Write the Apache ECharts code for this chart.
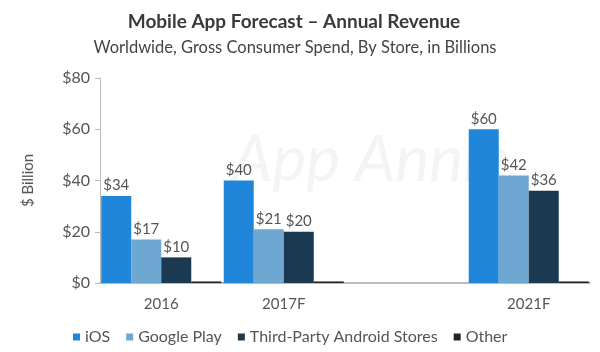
<!DOCTYPE html>
<html>
<head>
<meta charset="utf-8">
<script src="https://cdn.jsdelivr.net/npm/echarts@6/dist/echarts.min.js"></script>
<style>
  html, body { margin: 0; padding: 0; background: #fff; }
  #chart { width: 600px; height: 352px; }
</style>
</head>
<body>
<div id="chart"></div>
<script>
// data
const categories = ['2016', '2017F', '', '2021F']
const iosValues = [34, 40, null, 60]
const googlePlayValues = [17, 21, null, 42]
const thirdPartyValues = [10, 20, null, 36]
const otherValues = [0.6, 0.6, null, 0.6]
const yTicks = [0, 20, 40, 60, 80]

const font = 'Lato, "Open Sans", sans-serif'
const chart = echarts.init(document.getElementById('chart'))

function barLabel() {
  return {
    show: true,
    position: 'top',
    distance: 3,
    color: '#555',
    fontSize: 15,
    fontFamily: font,
    formatter: function(p) {
      return p.value == null ? '' : '$' + p.value
    }
  }
}

const option = {
  backgroundColor: '#fff',
  title: [{
    text: 'Mobile App Forecast – Annual Revenue',
    left: 289,
    textAlign: 'center',
    top: 7,
    textStyle: { color: '#3a3a3a', fontSize: 19, fontWeight: 'bold', fontFamily: font }
  }, {
    text: 'Worldwide, Gross Consumer Spend, By Store, in Billions',
    left: 290,
    textAlign: 'center',
    top: 34,
    textStyle: { color: '#444', fontSize: 16.5, fontWeight: 'normal', fontFamily: font }
  }],
  graphic: [{
    type: 'text',
    left: 232,
    top: 128,
    z: 0,
    style: {
      text: 'App Annie',
      fill: '#f4f4f4',
      font: 'italic 64px ' + font
    }
  }],
  legend: {
    bottom: 2,
    left: 68,
    icon: 'rect',
    itemWidth: 7,
    itemHeight: 7,
    itemGap: 16,
    textStyle: { color: '#555', fontSize: 16, fontFamily: font },
    data: ['iOS', 'Google Play', 'Third-Party Android Stores', 'Other']
  },
  grid: {
    left: 100,
    right: 10,
    top: 78,
    bottom: 69
  },
  xAxis: {
    type: 'category',
    data: categories,
    axisLine: { lineStyle: { color: '#bbb', width: 2 } },
    axisTick: { show: false },
    axisLabel: { color: '#555', fontSize: 15, fontFamily: font, margin: 14 }
  },
  yAxis: {
    type: 'value',
    min: yTicks[0],
    max: yTicks[yTicks.length - 1],
    interval: 20,
    name: '$ Billion',
    nameLocation: 'middle',
    nameGap: 64,
    nameRotate: 90,
    nameTextStyle: { color: '#555', fontSize: 15, fontFamily: font },
    axisLine: { show: true, lineStyle: { color: '#bbb' } },
    axisTick: { show: true, length: 5, lineStyle: { color: '#bbb' } },
    splitLine: { show: false },
    axisLabel: {
      color: '#555',
      fontSize: 16,
      fontFamily: font,
      margin: 10,
      formatter: function(v) { return '$' + v }
    }
  },
  series: [{
    name: 'iOS',
    type: 'bar',
    barGap: '0%',
    barCategoryGap: '2%',
    itemStyle: { color: '#1f86da' },
    label: barLabel(),
    data: iosValues
  }, {
    name: 'Google Play',
    type: 'bar',
    itemStyle: { color: '#6ea7d1' },
    label: barLabel(),
    data: googlePlayValues
  }, {
    name: 'Third-Party Android Stores',
    type: 'bar',
    itemStyle: { color: '#1b3a52' },
    label: barLabel(),
    data: thirdPartyValues
  }, {
    name: 'Other',
    type: 'bar',
    itemStyle: { color: '#222' },
    data: otherValues
  }]
}

chart.setOption(option)
</script>
</body>
</html>
